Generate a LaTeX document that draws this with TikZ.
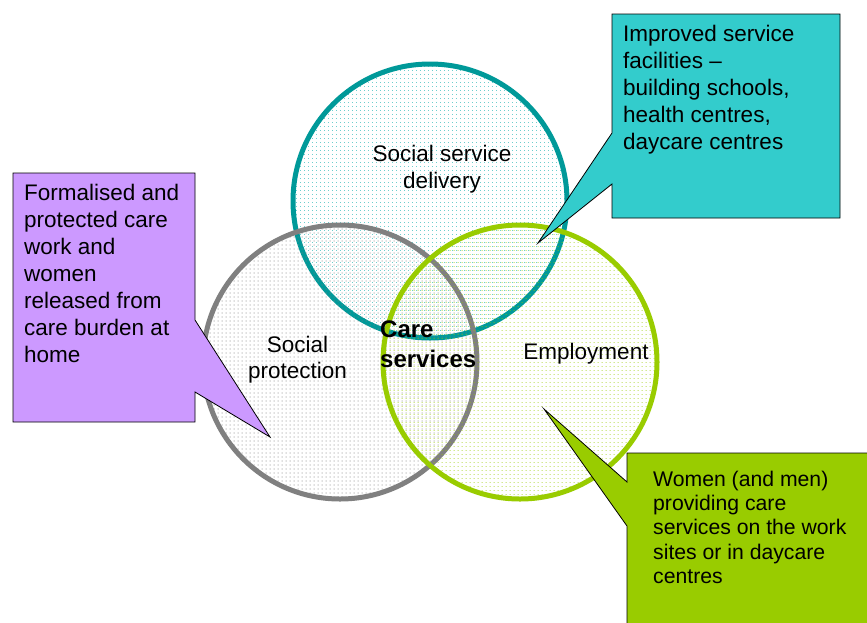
\documentclass[tikz,border=0pt]{standalone}
\usepackage{fontspec}
\setmainfont{Liberation Sans}
\usetikzlibrary{patterns.meta}

\definecolor{tealline}{HTML}{009999}
\definecolor{tealdot}{HTML}{22B5B5}
\definecolor{tealfill}{HTML}{33CCCC}
\definecolor{grayline}{HTML}{808080}
\definecolor{greenline}{HTML}{99CC00}
\definecolor{lilac}{HTML}{CC99FF}

% small dash-like dots, offset per circle so overlaps interleave
\tikzdeclarepattern{name=dotsteal, type=uncolored,
  bottom left={(0pt,0pt)}, top right={(4pt,4pt)}, tile size={(4pt,4pt)},
  code={\pgfpathrectangle{\pgfqpoint{0pt}{0pt}}{\pgfqpoint{1.2pt}{0.9pt}}\pgfusepath{fill}}}
\tikzdeclarepattern{name=dotsgray, type=uncolored,
  bottom left={(0pt,0pt)}, top right={(4pt,4pt)}, tile size={(4pt,4pt)},
  code={\pgfpathrectangle{\pgfqpoint{2pt}{2pt}}{\pgfqpoint{1.2pt}{0.9pt}}\pgfusepath{fill}}}
\tikzdeclarepattern{name=dotsgreen, type=uncolored,
  bottom left={(0pt,0pt)}, top right={(4pt,4pt)}, tile size={(4pt,4pt)},
  code={\pgfpathrectangle{\pgfqpoint{2pt}{0pt}}{\pgfqpoint{1.2pt}{0.9pt}}\pgfusepath{fill}}}

\begin{document}
\begin{tikzpicture}[x=1pt,y=-1pt,
  ring/.style={circle, inner sep=0pt, minimum size=274pt, line width=5pt},
  bubble/.style={draw=black, line width=0.8pt, line join=miter},
  calltext/.style={anchor=north west, inner sep=0pt, align=left,
    font=\fontsize{22.5}{27}\selectfont},
  ringlabel/.style={anchor=north, inner sep=0pt, align=center,
    font=\fontsize{22.5}{26.6}\selectfont}]
\useasboundingbox[fill=white] (0,0) rectangle (867,622);

% the three overlapping areas
\node[ring, draw=tealline, pattern=dotsteal, pattern color=tealdot] (sd) at (430,201) {};
\node[ring, draw=grayline, pattern=dotsgray, pattern color=grayline] (sp) at (340,362) {};
\node[ring, draw=greenline, pattern=dotsgreen, pattern color=greenline] (em) at (520,362) {};

% area labels
\node[ringlabel] (sdl) at (442,144.7) {\rule{0pt}{17pt}Social service\\delivery};
\node[ringlabel] (spl) at (297.5,335) {\rule{0pt}{17pt}Social\\protection};
\node[ringlabel] (eml) at (586,342) {\rule{0pt}{17pt}Employment};
\node[anchor=north west, inner sep=0pt, align=left,
  font=\bfseries\fontsize{24}{30}\selectfont] (care) at (380,319)
  {\rule{0pt}{18pt}Care\\services};

% callout: service facilities
\path[bubble, fill=tealfill] (612,14) -- (840,14) -- (840,218) -- (612,218)
  -- (612,184) -- (538,243) -- (612,133) -- cycle;
\node[calltext] (fac) at (623,24.7)
  {\rule{0pt}{17pt}Improved service\\facilities --\\building schools,\\health centres,\\daycare centres};

% callout: care work
\path[bubble, fill=lilac] (13,173) -- (195,173) -- (195,320) -- (270,437)
  -- (195,392) -- (195,422) -- (13,422) -- cycle;
\node[calltext] (cw) at (24,183.7)
  {\rule{0pt}{17pt}Formalised and\\protected care\\work and\\women\\released from\\care burden at\\home};

% callout: care providers
\path[bubble, fill=greenline] (627,453) -- (880,453) -- (880,640) -- (627,640)
  -- (627,526) -- (544,409) -- (627,482) -- cycle;
\node[calltext, font=\fontsize{21.2}{24.3}\selectfont] (wm) at (653,470)
  {\rule{0pt}{16pt}Women (and men)\\providing care\\services on the work\\sites or in daycare\\centres};
\end{tikzpicture}
\end{document}
